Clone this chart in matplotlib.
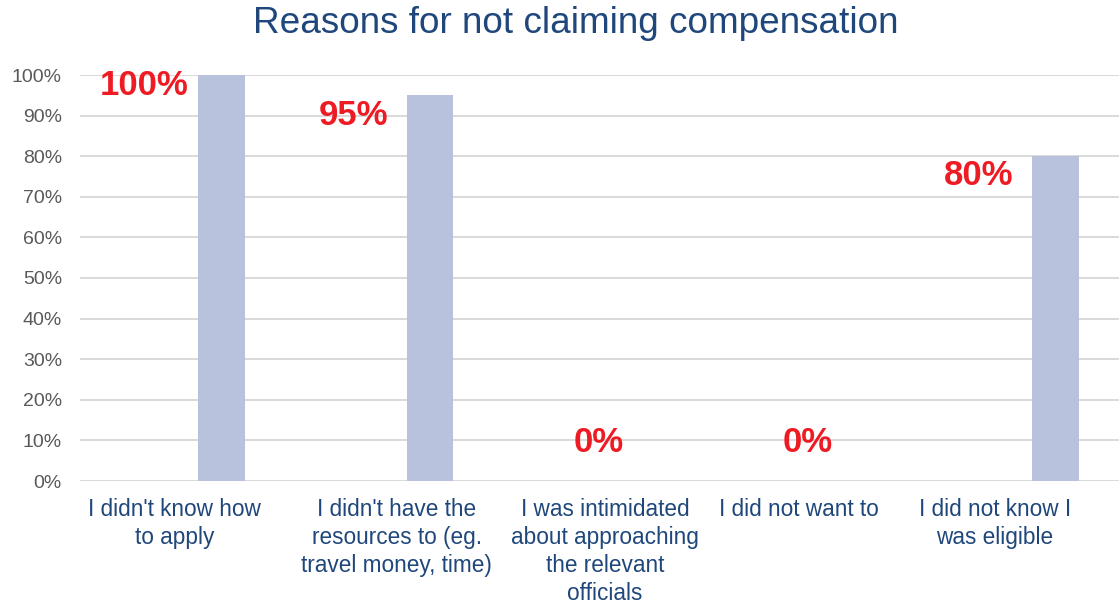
import matplotlib
matplotlib.use("Agg")
import matplotlib.pyplot as plt
from matplotlib.ticker import FuncFormatter
from matplotlib.transforms import ScaledTranslation

categories = [
    "I didn't know how\nto apply",
    "I didn't have the\nresources to (eg.\ntravel money, time)",
    "I was intimidated\nabout approaching\nthe relevant\nofficials",
    "I did not want to",
    "I did not know I\nwas eligible",
]
values = [100, 95, 0, 0, 80]
value_labels = ["100%", "95%", "0%", "0%", "80%"]
yticks = [0, 10, 20, 30, 40, 50, 60, 70, 80, 90, 100]

FONT = ["Liberation Sans", "DejaVu Sans"]
plt.rcParams["font.family"] = FONT

W, H = 1119, 603
fig = plt.figure(figsize=(W / 100, H / 100), dpi=100)
left_px, right_px, top_px, bot_px = 80, 1122, 75, 481
ax = fig.add_axes([left_px / W, 1 - bot_px / H, (right_px - left_px) / W, (bot_px - top_px) / H])

x = list(range(len(categories)))
bar_off = 0.18
bar_w = 0.223
ax.bar([i + bar_off for i in x], values, width=bar_w, color="#B9C2DC", zorder=3)

ax.set_xlim(-0.5, len(categories) - 0.5)
ax.set_ylim(0, 100)
ax.set_yticks(yticks)
ax.yaxis.set_major_formatter(FuncFormatter(lambda v, p: f"{int(v)}%"))
ax.grid(axis="y", color="#D9D9D9", linewidth=1.4, zorder=0)
ax.set_axisbelow(True)
for s in ax.spines.values():
    s.set_visible(False)
ax.tick_params(axis="y", length=0, pad=13, labelsize=14, labelcolor="#595959")
ax.tick_params(axis="x", length=0, pad=12.5)
ax.set_xticks(x)
ax.set_xticklabels(categories, fontsize=16.3, color="#1F477B", linespacing=1.27, va="top")

# small horizontal nudges of the wrapped category labels (pixels)
label_shift_px = [-10, 4, 4, -11, -23]
for lbl, dx in zip(ax.get_xticklabels(), label_shift_px):
    lbl.set_transform(lbl.get_transform() + ScaledTranslation(dx / 100, 0, fig.dpi_scale_trans))

for i, (v, lab) in enumerate(zip(values, value_labels)):
    if v >= 100:
        xt, yt = i - 0.19, 95.1
    elif v > 0:
        xt, yt = i - 0.19, v - 7.2
    else:
        xt, yt = i - 0.01, 7.1
    ax.text(xt, yt, lab, ha="center", va="baseline", fontsize=25, fontweight="bold",
            color="#ED1C24", zorder=4)

fig.text(576 / W, 1 - 33 / H, "Reasons for not claiming compensation", ha="center", va="baseline",
         fontsize=26.6, color="#1F477B")

fig.savefig("out.png", dpi=100)
